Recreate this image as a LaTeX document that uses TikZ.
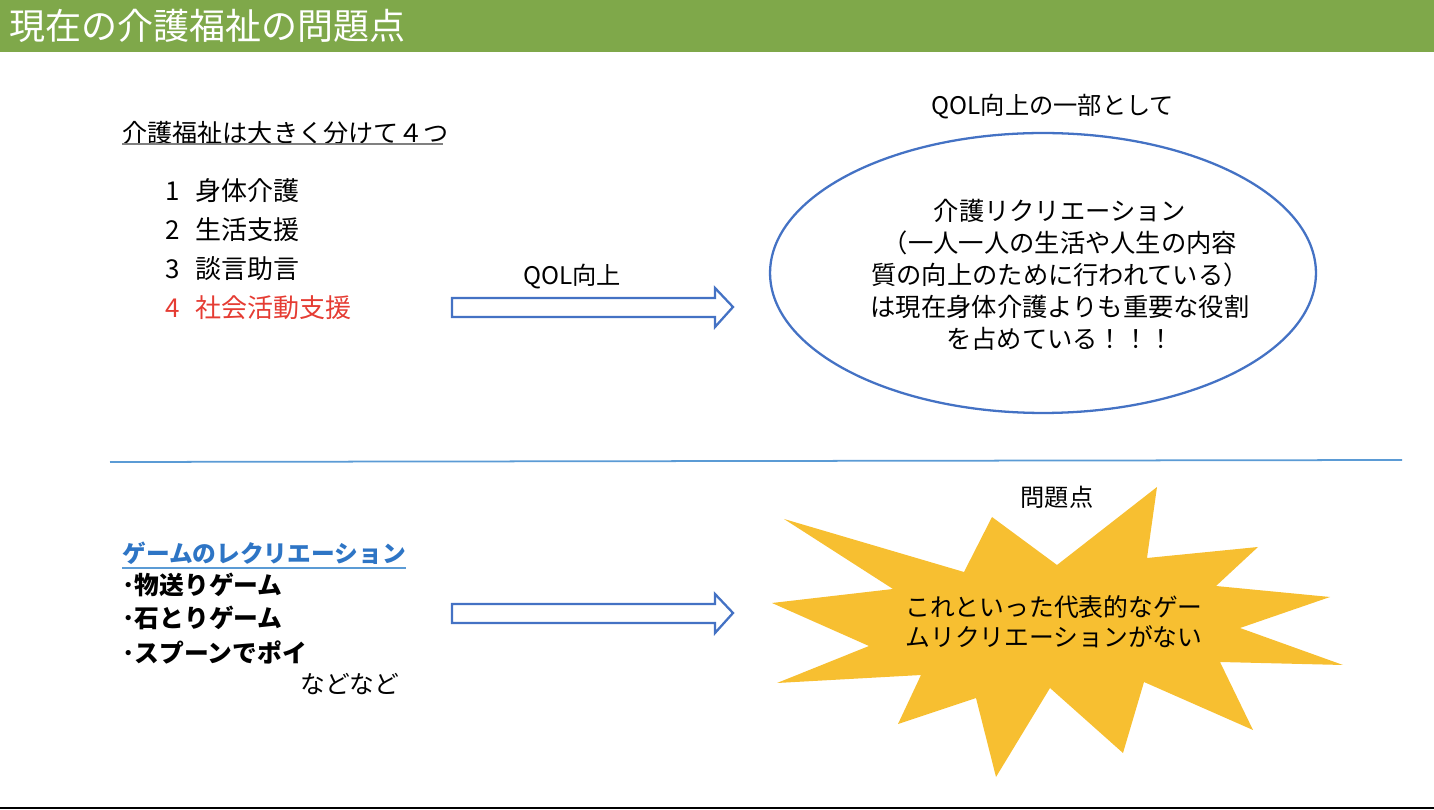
\documentclass[tikz,border=0pt]{standalone}
\usepackage{fontspec}
\setmainfont{Noto Sans CJK JP}
\usetikzlibrary{shapes.geometric}

\definecolor{hdrgreen}{HTML}{7FA84A}
\definecolor{qolblue}{HTML}{4472C4}
\definecolor{linkblue}{HTML}{2E75C5}
\definecolor{lineblue}{HTML}{5B9BD5}
\definecolor{alertred}{HTML}{E53C33}
\definecolor{burst}{HTML}{F7BF31}

\tikzset{
  txt/.style={inner sep=0pt, font=\fontsize{13.8}{17}\selectfont},
  lefttxt/.style={txt, anchor=west},
  itemtxt/.style={lefttxt, font=\fontsize{14.8}{18}\selectfont},
  gametxt/.style={lefttxt, font=\fontsize{14.1}{17}\bfseries},
  bigarrow/.style={draw=qolblue, line width=1.3pt, fill=white, line join=miter}
}

\begin{document}
\begin{tikzpicture}[x=0.02cm,y=-0.02cm]
\useasboundingbox (0,0) rectangle (1434,810);
% header
\fill[hdrgreen] (0,0) rectangle (1434,52);
\node[anchor=west, inner sep=0pt, white, font=\fontsize{20.5}{24}\selectfont] (title) at (9,26) {現在の介護福祉の問題点};

% upper half
\node[lefttxt, font=\fontsize{14.3}{17}\selectfont] (kinds) at (122,133) {介護福祉は大きく分けて４つ};
\draw[gray, line width=1pt] (122,144) -- (443,144);
\node[itemtxt] (k1) at (165,191) {1\hspace{0.6em}身体介護};
\node[itemtxt] (k2) at (165,230) {2\hspace{0.6em}生活支援};
\node[itemtxt] (k3) at (165,269) {3\hspace{0.6em}談言助言};
\node[itemtxt, text=alertred] (k4) at (165,308) {4\hspace{0.6em}社会活動支援};

\draw[bigarrow] (452,298) -- (715,298) -- (715,288) -- (733,307) -- (715,327) -- (715,317) -- (452,317) -- cycle;
\node[txt] (qol) at (572,277) {QOL向上};

\node[txt] (part) at (1053,107) {QOL向上の一部として};
\node[draw=qolblue, line width=1.3pt, ellipse, minimum width=10.92cm, minimum height=5.6cm] (rec) at (1043,273) {};
\node[txt, font=\fontsize{14.4}{18.2}\selectfont, align=center] (rectxt) at (1060,275)
  {介護リクリエーション\\（一人一人の生活や人生の内容\\質の向上のために行われている）\\は現在身体介護よりも重要な役割\\を占めている！！！};

% separator
\draw[lineblue, line width=1pt] (110,462) -- (1402,460);

% lower half
\node[lefttxt, text=linkblue, font=\fontsize{13.5}{17}\bfseries] (games) at (122,553) {ゲームのレクリエーション};
\draw[lineblue, line width=1pt] (122,568) -- (406,568);
\node[gametxt] (g1) at (122,585) {･物送りゲーム};
\node[gametxt] (g2) at (122,618) {･石とりゲーム};
\node[gametxt] (g3) at (122,652) {･スプーンでポイ};
\node[lefttxt, font=\fontsize{14.1}{17}\selectfont] (etc) at (300,684) {などなど};

\draw[bigarrow] (452,604) -- (715,604) -- (715,594) -- (733,613) -- (715,633) -- (715,623) -- (452,623) -- cycle;

\node[txt] (issue) at (1057,497) {問題点};
\fill[burst] (784,519) -- (964,572) -- (992,517) -- (1057,565) -- (1157,487) -- (1147,558)
  -- (1258,547) -- (1216,586) -- (1330,597) -- (1240,628) -- (1343,665) -- (1220,662)
  -- (1253,730) -- (1144,682) -- (1123,753) -- (1050,688) -- (996,777) -- (976,698)
  -- (898,724) -- (921,675) -- (777,683) -- (869,646) -- (772,603) -- (893,589) -- cycle;
\node[txt, font=\fontsize{14.1}{17}\selectfont, align=center] (issuetxt) at (1054,622)
  {これといった代表的なゲー\\ムリクリエーションがない};

% bottom rule
\draw[black, line width=1.2pt] (0,808) -- (1434,808);
\end{tikzpicture}
\end{document}
